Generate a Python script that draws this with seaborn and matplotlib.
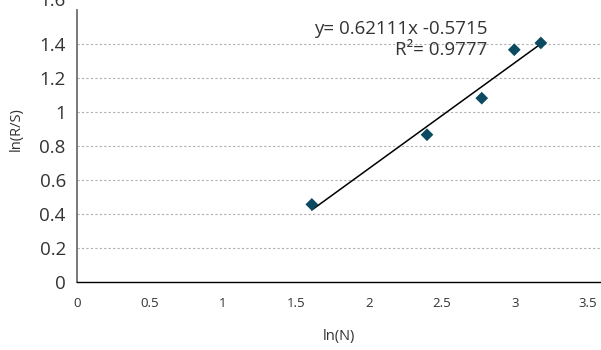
import numpy as np
import pandas as pd
import seaborn as sns
import matplotlib.pyplot as plt
import matplotlib.transforms as mtransforms

# ln(N) and ln(R/S)
ln_n = [1.609, 2.398, 2.773, 2.996, 3.178]
ln_rs = [0.455, 0.865, 1.080, 1.365, 1.405]

x_ticks = [0, 0.5, 1, 1.5, 2, 2.5, 3, 3.5]
x_tick_labels = ["0", "0.5", "1", "1.5", "2", "2.5", "3", "3.5"]
y_ticks = [0, 0.2, 0.4, 0.6, 0.8, 1.0, 1.2, 1.4, 1.6]
y_tick_labels = ["0", "0.2", "0.4", "0.6", "0.8", "1", "1.2", "1.4", "1.6"]

eq_text = "y= 0.62111x -0.5715"
r2_text = "R²= 0.9777"

df = pd.DataFrame({"ln_n": ln_n, "ln_rs": ln_rs})

sns.set_style("white")
plt.rcParams["font.family"] = ["Open Sans", "DejaVu Sans"]

fig = plt.figure(figsize=(6.01, 3.5), dpi=100)
ax = fig.add_axes([0.128, 0.195, 0.872, 0.777])

# dotted horizontal grid (none on the axis itself or at the very top)
for yv in y_ticks[1:-1]:
    ax.axhline(yv, color="#b0b0b0", lw=0.8, ls=(0, (2, 2)), zorder=0)

sns.regplot(data=df, x="ln_n", y="ln_rs", scatter=False, ci=None,
            line_kws={"color": "black", "lw": 1.1}, ax=ax)
sns.scatterplot(data=df, x="ln_n", y="ln_rs", marker="D", s=42,
                color="#0b4a60", edgecolor="none", zorder=3, ax=ax)

ax.set_xlim(0, 3.59)
ax.set_ylim(0, 1.6)
ax.set_xticks(x_ticks)
ax.set_xticklabels(x_tick_labels, fontsize=9.5, color="#333333")
ax.set_yticks(y_ticks)
ax.set_yticklabels(y_tick_labels, fontsize=13.5, color="#333333")
ax.tick_params(axis="x", direction="inout", length=10, width=0.9,
               color="#333333", pad=6)
ax.tick_params(axis="y", direction="inout", length=10, width=0.9,
               color="#333333", pad=3)

# the top label sits partly above the figure edge in the original
top_lbl = ax.get_yticklabels()[-1]
top_lbl.set_transform(top_lbl.get_transform() +
                      mtransforms.ScaledTranslation(0, 11 / 100, fig.dpi_scale_trans))

sns.despine(ax=ax, top=True, right=True)
ax.spines["left"].set_color("#6e6e6e")
ax.spines["left"].set_linewidth(1.3)
ax.spines["bottom"].set_color("black")
ax.spines["bottom"].set_linewidth(1.0)

ax.set_xlabel("ln(N)", fontsize=10.5, color="#333333")
ax.set_ylabel("ln(R/S)", fontsize=10.5, color="#333333")
ax.xaxis.set_label_coords(0.5, -0.175)
ax.yaxis.set_label_coords(-0.101, 0.56)

ax.text(2.81, 1.486, eq_text, ha="right", va="center", fontsize=13.5,
        color="#333333")
ax.text(2.81, 1.363, r2_text, ha="right", va="center", fontsize=13.5,
        color="#333333")

fig.savefig("out.png", dpi=100)
